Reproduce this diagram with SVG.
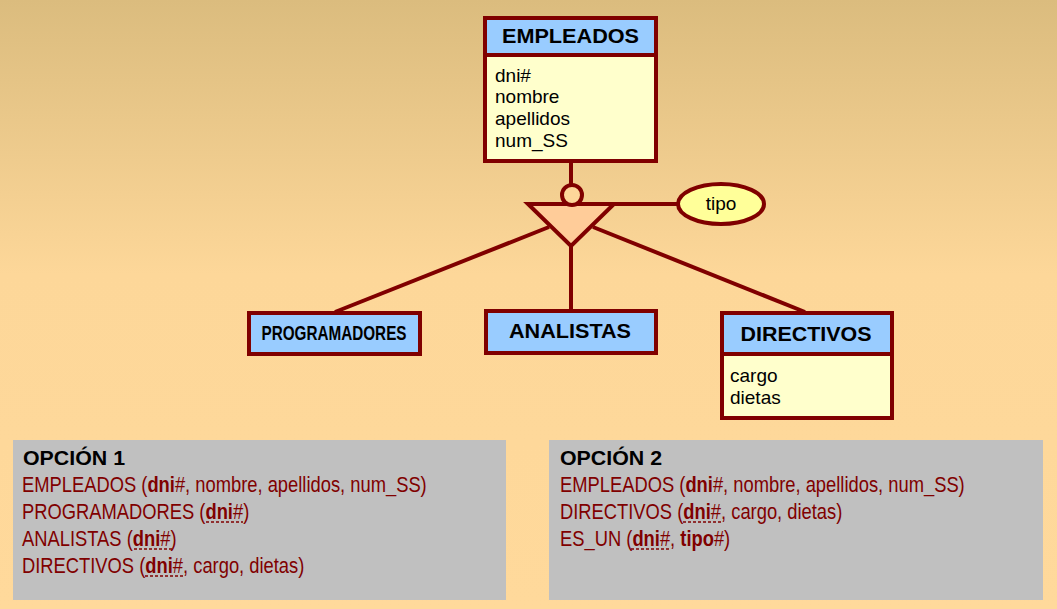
<svg xmlns="http://www.w3.org/2000/svg" width="1057" height="609" viewBox="0 0 1057 609">
<defs>
<linearGradient id="bg" x1="0" y1="0" x2="0" y2="609" gradientUnits="userSpaceOnUse">
<stop offset="0" stop-color="#dbbc7e"/>
<stop offset="0.45" stop-color="#fdd799"/>
<stop offset="1" stop-color="#ffd99b"/>
</linearGradient>
<style>
.ln{stroke:#800000;stroke-width:4;fill:none}
.hdr{fill:#99ccff;stroke:#800000;stroke-width:4}
.att{fill:#ffffcc;stroke:#800000;stroke-width:4}
.ht{font-family:"Liberation Sans",Arial,sans-serif;font-weight:bold;font-size:21px;fill:#000}
.at{font-family:"Liberation Sans",Arial,sans-serif;font-size:19px;fill:#000}
.box{fill:#c0c0c0}
.tt{font-family:"Liberation Sans",Arial,sans-serif;font-weight:bold;font-size:20px;fill:#000}
.rt{font-family:"Liberation Sans",Arial,sans-serif;font-size:22px;fill:#800000}
.b{font-weight:bold}
.du{stroke:#800000;stroke-width:1.3;stroke-dasharray:3,2}
</style>
</defs>
<rect x="0" y="0" width="1057" height="609" fill="url(#bg)"/>

<g id="connectors">
<line class="ln" x1="571" y1="161" x2="571" y2="185"/>
<line class="ln" x1="613" y1="204" x2="677" y2="204"/>
<line class="ln" x1="549" y1="227" x2="335" y2="312"/>
<line class="ln" x1="571" y1="246" x2="571" y2="311"/>
<line class="ln" x1="593" y1="227" x2="805" y2="312"/>
</g>

<g id="isa">
<polygon points="528,204 614,204 571,246" fill="#ffcc99" stroke="#800000" stroke-width="4" stroke-linejoin="miter"/>
<circle cx="572" cy="195" r="10" fill="#fdd69a" stroke="#800000" stroke-width="4"/>
</g>

<g id="tipo">
<ellipse cx="721" cy="204" rx="43" ry="20" fill="#ffff99" stroke="#800000" stroke-width="4"/>
<text class="at" x="721" y="210" text-anchor="middle" font-size="18">tipo</text>
</g>

<g id="empleados">
<rect class="att" x="485" y="55" width="171" height="106"/>
<rect class="hdr" x="485" y="18" width="171" height="37"/>
<text class="ht" x="570.5" y="43" text-anchor="middle" textLength="137" lengthAdjust="spacingAndGlyphs">EMPLEADOS</text>
<text class="at" x="495" y="82">dni#</text>
<text class="at" x="495" y="103">nombre</text>
<text class="at" x="495" y="125">apellidos</text>
<text class="at" x="495" y="147">num_SS</text>
</g>

<g id="programadores">
<rect class="hdr" x="249" y="313" width="171" height="41"/>
<text class="ht" x="334" y="340" text-anchor="middle" font-size="18" textLength="145" lengthAdjust="spacingAndGlyphs">PROGRAMADORES</text>
</g>

<g id="analistas">
<rect class="hdr" x="486" y="311" width="170" height="42"/>
<text class="ht" x="570" y="338" text-anchor="middle" textLength="122" lengthAdjust="spacingAndGlyphs">ANALISTAS</text>
</g>

<g id="directivos">
<rect class="att" x="722" y="354" width="170" height="64"/>
<rect class="hdr" x="722" y="313" width="170" height="41"/>
<text class="ht" x="806" y="341" text-anchor="middle" textLength="131" lengthAdjust="spacingAndGlyphs">DIRECTIVOS</text>
<text class="at" x="730" y="382">cargo</text>
<text class="at" x="730" y="404">dietas</text>
</g>

<g id="opcion1">
<rect class="box" x="13" y="440" width="493" height="160"/>
<text class="tt" x="23" y="465" textLength="102" lengthAdjust="spacingAndGlyphs">OPCIÓN 1</text>
<text class="rt" transform="translate(22,492) scale(0.834,1)">EMPLEADOS (<tspan class="b">dni</tspan>#, nombre, apellidos, num_SS)</text>
<text class="rt" transform="translate(22,519) scale(0.834,1)">PROGRAMADORES (<tspan class="b">dni</tspan>#)</text>
<text class="rt" transform="translate(22,546) scale(0.834,1)">ANALISTAS (<tspan class="b">dni</tspan>#)</text>
<text class="rt" transform="translate(22,573) scale(0.834,1)">DIRECTIVOS (<tspan class="b">dni</tspan>#, cargo, dietas)</text>
<line class="du" x1="206" y1="522" x2="243" y2="522"/>
<line class="du" x1="134" y1="549" x2="172" y2="549"/>
<line class="du" x1="145" y1="576" x2="184" y2="576"/>
</g>

<g id="opcion2">
<rect class="box" x="549" y="440" width="494" height="160"/>
<text class="tt" x="560" y="465" textLength="102" lengthAdjust="spacingAndGlyphs">OPCIÓN 2</text>
<text class="rt" transform="translate(560,492) scale(0.834,1)">EMPLEADOS (<tspan class="b">dni</tspan>#, nombre, apellidos, num_SS)</text>
<text class="rt" transform="translate(560,519) scale(0.834,1)">DIRECTIVOS (<tspan class="b">dni</tspan>#, cargo, dietas)</text>
<text class="rt" transform="translate(560,546) scale(0.834,1)">ES_UN (<tspan class="b">dni</tspan>#, <tspan class="b">tipo</tspan>#)</text>
<line class="du" x1="683" y1="522" x2="722" y2="522"/>
<line class="du" x1="631" y1="549" x2="669" y2="549"/>
</g>
</svg>
